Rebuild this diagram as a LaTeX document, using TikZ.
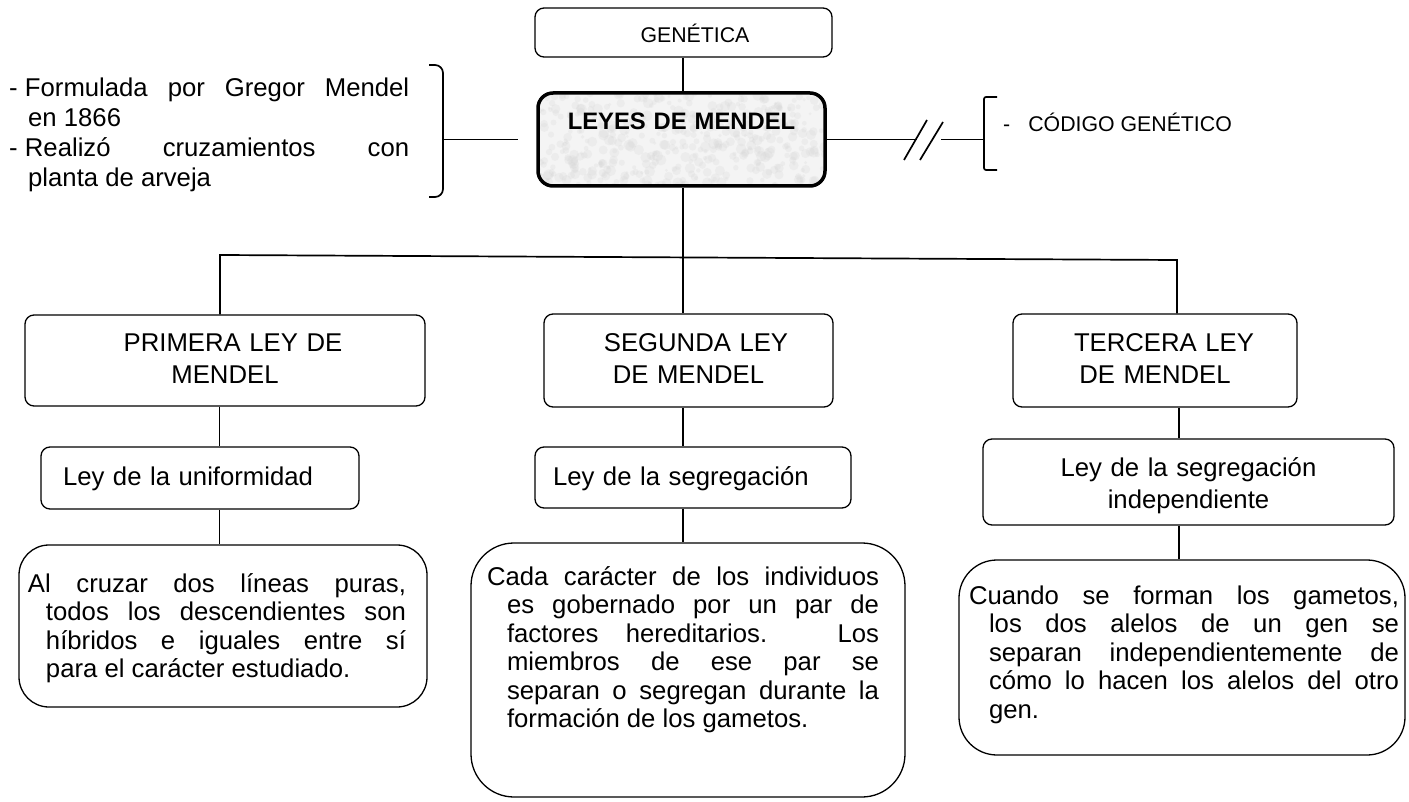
\documentclass[tikz,border=0pt]{standalone}
\usepackage{fontspec}
\setmainfont{Liberation Sans}
\begin{document}
\begin{tikzpicture}[x=1pt,y=-1pt,
  box/.style={draw, line width=1.3pt, rounded corners=9pt, inner sep=0pt, align=center,
    font=\fontsize{25.7}{32}\selectfont},
  pbox/.style={draw, line width=1.3pt, inner sep=0pt, align=justify,
    font=\fontsize{25.7}{28.5}\selectfont},
  conn/.style={line width=1.7pt},
  small/.style={font=\fontsize{21.3}{25}\selectfont}]
\useasboundingbox (0,0) rectangle (1409,802);
% columns
\coordinate (c1) at (219.5,0);
\coordinate (c2) at (683,0);
\coordinate (c3) at (1179,0);
% textured background of the main box
\begin{scope}
  \clip[rounded corners=15pt] (538,93) rectangle (825,186);
  \fill[gray!9] (538,93) rectangle (825,186);
  \pgfmathsetseed{7}
  \foreach \i in {1,...,450} {
    \fill[gray!35, opacity=0.22] (538+287*rnd, 93+93*rnd) circle ({1.5+4*rnd});
  }
\end{scope}
% top nodes
\node[box, small, text width=297pt, text height=35pt, text depth=14pt] (gen) at (683.5,32.5) {\hspace*{23pt}GENÉTICA};
\node[box, line width=3.5pt, rounded corners=15pt, text width=287pt, text height=37pt, text depth=56pt,
  font=\fontsize{23.8}{28}\selectfont\bfseries] (leyes) at (681.5,139.5) {LEYES DE MENDEL};
% left notes
\node[anchor=base west, inner sep=0pt, text width=400pt, align=justify,
  font=\fontsize{25.7}{30}\selectfont] (notes) at (9,97)
  {\tolerance=10000\hbadness=10000\parfillskip=0pt plus 1fil
   \hangindent=19pt\hangafter=1 -\hspace{0.28em}Formulada por Gregor Mendel\linebreak en 1866\par
   \hangindent=19pt\hangafter=1 -\hspace{0.28em}Realizó cruzamientos con\linebreak planta de arveja\par};
\draw[conn, rounded corners=8pt] (429,65) -- (443,65) -- (443,197) -- (429,197);
\coordinate (bm) at (443,139.5);
\coordinate (lend) at (518,139.5);
\draw[conn] (bm) -- (lend);
% right side
\coordinate (cut1) at (917,139.5);
\coordinate (cut2) at (941,139.5);
\coordinate (brk) at (984,139.5);
\draw[conn] (leyes.east) -- (cut1);
\draw[conn] (cut2) -- (brk);
\draw[conn] (904,160) -- (927,120);
\draw[conn] (920,160) -- (943,122);
\draw[conn, rounded corners=2pt] (997,97) -- (984,97) -- (984,170) -- (997,170);
\node[anchor=base west, inner sep=0pt, small] (cod) at (1003,132) {-\hspace{18pt}CÓDIGO GENÉTICO};
% second level
\node[box, text width=400pt, text height=37pt, text depth=54pt] (p1) at (225,360.5) {\hspace*{16pt}PRIMERA LEY DE\\MENDEL};
\node[box, text width=289pt, text height=38pt, text depth=55pt] (p2) at (688.5,360.5) {\hspace*{15pt}SEGUNDA LEY\\DE MENDEL};
\node[box, text width=284pt, text height=38pt, text depth=55pt] (p3) at (1155,360.5) {\hspace*{18pt}TERCERA LEY\\DE MENDEL};
% third level
\node[box, align=left, text width=318pt, text height=38pt, text depth=24pt] (u1) at (200,478) {\hspace*{22pt}Ley de la uniformidad};
\node[box, align=left, text width=316pt, text height=38pt, text depth=23pt] (u2) at (693,477.5) {\hspace*{18pt}Ley de la segregación};
\node[box, text width=411pt, text height=37pt, text depth=49pt] (u3) at (1188.5,482) {Ley de la segregación\hspace*{23pt}\\independiente};
% fourth level
\node[pbox, rounded corners=30pt, text width=408pt, text height=47pt, text depth=115pt] (b1) at (223,626)
  {\leftskip=9pt\rightskip=21pt\parfillskip=0pt plus 1fil\tolerance=10000\hbadness=10000
   \hangindent=18pt\hangafter=1
   Al cruzar dos líneas puras,\linebreak todos los descendientes son\linebreak híbridos e iguales entre sí\linebreak para el carácter estudiado.\par};
\node[pbox, rounded corners=43pt, text width=434pt, text height=42pt, text depth=212pt] (b2) at (688,670)
  {\leftskip=16pt\rightskip=26pt\parfillskip=0pt plus 1fil\tolerance=10000\hbadness=10000
   \hangindent=20pt\hangafter=1
   Cada carácter de los individuos\linebreak es gobernado por un par de\linebreak factores hereditarios. Los\linebreak miembros de ese par se\linebreak separan o segregan durante la\linebreak formación de los gametos.\par};
\node[pbox, rounded corners=38pt, text width=446pt, text height=44pt, text depth=151pt] (b3) at (1182,657.5)
  {\leftskip=10pt\rightskip=6pt\parfillskip=0pt plus 1fil\tolerance=10000\hbadness=10000
   \hangindent=20pt\hangafter=1
   Cuando se forman los gametos,\linebreak los dos alelos de un gen se\linebreak separan independientemente de\linebreak cómo lo hacen los alelos del otro\linebreak gen.\par};
% connectors
\draw[conn] (gen.south -| c2) -- (leyes.north -| c2);
\coordinate (jl) at (220,255);
\coordinate (jr) at (1177,260);
\draw[conn] (jl |- p1.north) -- (jl) -- (jr) -- (jr |- p3.north);
\draw[conn] (leyes.south -| c2) -- (p2.north -| c2);
\draw[conn] (p1.south -| c1) -- (u1.north -| c1);
\draw[conn] (u1.south -| c1) -- (b1.north -| c1);
\draw[conn] (p2.south -| c2) -- (u2.north -| c2);
\draw[conn] (u2.south -| c2) -- (b2.north -| c2);
\draw[conn] (p3.south -| c3) -- (u3.north -| c3);
\draw[conn] (u3.south -| c3) -- (b3.north -| c3);
\end{tikzpicture}
\end{document}
